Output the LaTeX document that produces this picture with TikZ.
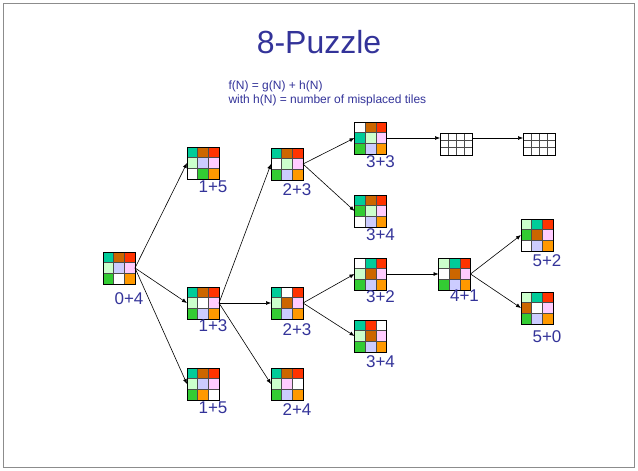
\documentclass[tikz,border=0pt]{standalone}
\usepackage{fontspec}
\setmainfont{Liberation Sans}
\usetikzlibrary{arrows.meta}

% text and tile colours
\definecolor{ink}{RGB}{51,51,153}
\definecolor{t0}{RGB}{255,255,255}
\definecolor{t1}{RGB}{204,255,204}
\definecolor{t2}{RGB}{0,204,153}
\definecolor{t3}{RGB}{255,51,0}
\definecolor{t4}{RGB}{255,204,255}
\definecolor{t5}{RGB}{255,153,0}
\definecolor{t6}{RGB}{204,204,255}
\definecolor{t7}{RGB}{51,204,51}
\definecolor{t8}{RGB}{204,102,0}

\tikzset{
  board/.style={draw=black, line width=0.8pt, minimum size=32pt, inner sep=0pt, outer sep=0pt},
  blank/.style={draw=black, line width=0.8pt, minimum width=32pt, minimum height=22pt, inner sep=0pt, outer sep=0pt},
  cellline/.style={draw=black!70, line width=0.6pt},
  lbl/.style={font=\fontsize{17}{17}\selectfont, text=ink, inner sep=0pt, anchor=north},
  move/.style={draw=black, line width=0.6pt, -{Latex[length=5pt,width=4pt]}},
}

% \board{name}{x}{y}{tiles row by row, 0 = blank}
\newcommand\board[4]{%
  \foreach \c [count=\i from 0] in {#4} {
    \pgfmathtruncatemacro\brow{\i/3}
    \pgfmathtruncatemacro\bcol{\i-3*\brow}
    \fill[t\c] ({#2-16+\bcol*32/3},{#3-16+\brow*32/3}) rectangle ++(32/3,32/3);
  }
  \foreach \k in {1,2} {
    \draw[cellline] ({#2-16+\k*32/3},{#3-16}) -- ++(0,32);
    \draw[cellline] ({#2-16},{#3-16+\k*32/3}) -- ++(32,0);
  }
  \node[board] (#1) at (#2,#3) {};
}
% \emptygrid{name}{x}{y}: an unfilled 4 x 3 table
\newcommand\emptygrid[3]{%
  \fill[white] ({#2-16},{#3-11}) rectangle ++(32,22);
  \foreach \k in {1,2,3}
    \draw[cellline] ({#2-16+\k*8},{#3-11}) -- ++(0,22);
  \foreach \k in {1,2}
    \draw[cellline] ({#2-16},{#3-11+\k*22/3}) -- ++(32,0);
  \node[blank] (#1) at (#2,#3) {};
}
% \cost{board name}{gap below}{text}
\newcommand\cost[3]{%
  \node[lbl] (#1-c) at ([xshift=10pt,yshift=-#2pt]#1.south) {#3};
}

\begin{document}
\begin{tikzpicture}[x=1pt,y=-1pt]
\useasboundingbox (0,0) rectangle (638,471);
\draw[black!45, line width=0.8pt] (3.5,3.5) rectangle (634.5,467.5);

\node[font=\fontsize{32}{32}\selectfont, text=ink, anchor=base] (title) at (319,53) {8-Puzzle};
\node[font=\fontsize{12}{12}\selectfont, text=ink, anchor=base west] (f1) at (225,89) {f(N) = g(N) + h(N)};
\node[font=\fontsize{12}{12}\selectfont, text=ink, anchor=base west] (f2) at (225,103) {with h(N) = number of misplaced tiles};

% search tree
\board{s0}{119}{268}{2,8,3,1,6,4,7,0,5}   \cost{s0}{8}{0+4}
\board{s1a}{203}{163}{2,8,3,1,6,4,0,7,5}  \cost{s1a}{2}{1+5}
\board{s1b}{203}{303}{2,8,3,1,0,4,7,6,5}  \cost{s1b}{0}{1+3}
\board{s1c}{203}{384}{2,8,3,1,6,4,7,5,0}  \cost{s1c}{2}{1+5}
\board{s2a}{287}{164}{2,8,3,0,1,4,7,6,5}  \cost{s2a}{3}{2+3}
\board{s2b}{287}{303}{2,0,3,1,8,4,7,6,5}  \cost{s2b}{4}{2+3}
\board{s2c}{287}{384}{2,8,3,1,4,0,7,6,5}  \cost{s2c}{3}{2+4}
\board{s3a}{370.5}{138}{0,8,3,2,1,4,7,6,5} \cost{s3a}{1}{3+3}
\board{s3b}{370.5}{211}{2,8,3,7,1,4,0,6,5} \cost{s3b}{1}{3+4}
\board{s3c}{370.5}{274}{0,2,3,1,8,4,7,6,5} \cost{s3c}{0}{3+2}
\board{s3d}{370.5}{336}{2,3,0,1,8,4,7,6,5} \cost{s3d}{3}{3+4}
\board{s4}{454.5}{274}{1,2,3,0,8,4,7,6,5} \cost{s4}{0}{4+1}
\board{s5a}{537}{235}{1,2,3,7,8,4,0,6,5}  \cost{s5a}{3}{5+2}
\board{s5b}{537}{308}{1,2,3,8,0,4,7,6,5}  \cost{s5b}{6}{5+0}
\emptygrid{e1}{456}{144}
\emptygrid{e2}{539}{144}

\draw[move] (s0.east) -- (s1a.west);
\draw[move] (s0.east) -- (s1b.west);
\draw[move] (s0.east) -- (s1c.west);
\draw[move] (s1b.east) -- (s2a.west);
\draw[move] (s1b.east) -- (s2b.west);
\draw[move] (s1b.east) -- (s2c.west);
\draw[move] (s2a.east) -- (s3a.west);
\draw[move] (s2a.east) -- (s3b.west);
\draw[move] (s2b.east) -- (s3c.west);
\draw[move] (s2b.east) -- (s3d.west);
\draw[move] (s3a.east) -- (s3a.east -| e1.west);
\draw[move] (s3a.east -| e1.east) -- (s3a.east -| e2.west);
\draw[move] (s3c.east) -- (s4.west);
\draw[move] (s4.east) -- (s5a.west);
\draw[move] (s4.east) -- (s5b.west);
\end{tikzpicture}
\end{document}
